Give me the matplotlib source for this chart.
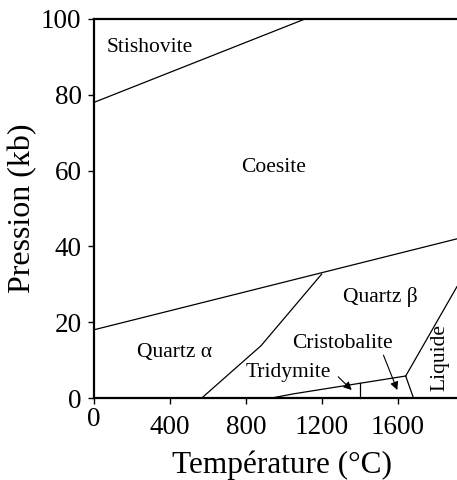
import matplotlib
matplotlib.use('Agg')
import matplotlib.pyplot as plt

plt.rcParams['font.family'] = ['Liberation Serif', 'DejaVu Serif']

# Phase boundaries of SiO2 (T in degC, P in kb)
stish_T = [0, 1110]
stish_P = [78, 100]
coes_T = [0, 1910]
coes_P = [18, 42]
qtz_ab_T = [567, 879, 1198]
qtz_ab_P = [0, 13.8, 32.7]
trid_T = [935, 1050, 1640]
trid_P = [0, 1.1, 5.8]
trid_cris_T = [1400, 1400]
trid_cris_P = [0, 3.9]
cris_liq_T = [1640, 1681]
cris_liq_P = [5.8, 0]
qtz_liq_T = [1640, 1910]
qtz_liq_P = [5.8, 29.4]

x_ticks = [0, 400, 800, 1200, 1600]
y_ticks = [0, 20, 40, 60, 80, 100]

# region labels: (text, T, P, rotation)
labels = [
    ('Stishovite', 295, 92.4, 0),
    ('Coesite', 943, 60.7, 0),
    ('Quartz \u03b2', 1505, 26.6, 0),
    ('Quartz \u03b1', 426, 12.1, 0),
    ('Cristobalite', 1305, 14.5, 0),
    ('Tridymite', 1021, 6.6, 0),
    ('Liquide', 1821, 10.6, 90),
]

fig = plt.figure(figsize=(4.57, 4.8), dpi=100)
ax = fig.add_axes([94 / 457, 82 / 480, 363 / 457, 379 / 480])

lw = 0.9
for T, P in [(stish_T, stish_P), (coes_T, coes_P), (qtz_ab_T, qtz_ab_P),
             (trid_T, trid_P), (trid_cris_T, trid_cris_P),
             (cris_liq_T, cris_liq_P), (qtz_liq_T, qtz_liq_P)]:
    ax.plot(T, P, color='black', lw=lw, clip_on=False)

for txt, T, P, rot in labels:
    ax.text(T, P, txt, ha='center', va='center', rotation=rot, fontsize=15.5)

arrow = dict(arrowstyle='-|>', color='black', lw=0.8,
             mutation_scale=12, shrinkA=0, shrinkB=0)
ax.annotate('', xy=(1356, 2.1), xytext=(1285, 5.6), arrowprops=arrow)
ax.annotate('', xy=(1596, 2.1), xytext=(1523, 11.3), arrowprops=arrow)

ax.set_xlim(0, 1910)
ax.set_ylim(0, 100)
ax.spines['right'].set_visible(False)
for s in ['left', 'top', 'bottom']:
    ax.spines[s].set_linewidth(1.6)

ax.set_xticks(x_ticks)
ax.set_xticklabels([''] + [str(v) for v in x_ticks[1:]])
ax.set_yticks(y_ticks)
ax.tick_params(axis='both', direction='out', length=4, width=1.0,
               labelsize=19.5, pad=5)
ax.tick_params(axis='x', pad=8)
ax.text(0, -0.025, '0', transform=ax.get_xaxis_transform(),
        ha='center', va='top', fontsize=19.5)

fig.text(281.5 / 457, 7 / 480, 'Temp\u00e9rature (\u00b0C)', fontsize=22.5,
         ha='center', va='baseline')
ax.set_ylabel('Pression (kb)', fontsize=23, labelpad=3)

fig.savefig('out.png', dpi=100)
